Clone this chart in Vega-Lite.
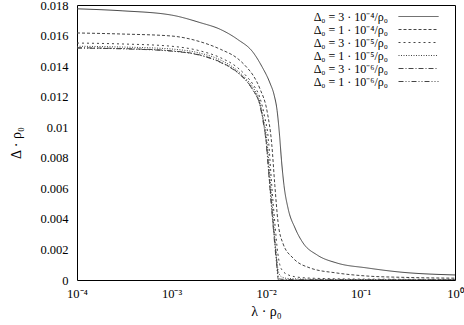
{
 "$schema": "https://vega.github.io/schema/vega-lite/v6.json",
 "width": 378, "height": 275,
 "autosize": {"type": "none"},
 "padding": {"left": 77, "top": 5, "right": 9, "bottom": 45},
 "background": "white",
 "config": {
  "view": {"stroke": null},
  "font": "Liberation Serif",
  "axis": {"labelFont": "Liberation Serif", "titleFont": "Liberation Serif", "labelColor": "black", "titleColor": "black", "domainColor": "black", "tickColor": "black", "grid": false, "labelFontSize": 12.5, "titleFontSize": 14, "titleFontWeight": "normal"}
 },
 "data": {"values": [
  {"series":"A","lambda":0.0001,"delta":0.01775},
  {"series":"A","lambda":0.0003,"delta":0.01762},
  {"series":"A","lambda":0.001,"delta":0.01734},
  {"series":"A","lambda":0.002,"delta":0.01685},
  {"series":"A","lambda":0.0033,"delta":0.0164},
  {"series":"A","lambda":0.005,"delta":0.01575},
  {"series":"A","lambda":0.0073,"delta":0.0149},
  {"series":"A","lambda":0.009,"delta":0.014},
  {"series":"A","lambda":0.011,"delta":0.0129},
  {"series":"A","lambda":0.0122,"delta":0.0121},
  {"series":"A","lambda":0.0131,"delta":0.0111},
  {"series":"A","lambda":0.0139,"delta":0.0095},
  {"series":"A","lambda":0.0146,"delta":0.0078},
  {"series":"A","lambda":0.0155,"delta":0.0062},
  {"series":"A","lambda":0.0171,"delta":0.0047},
  {"series":"A","lambda":0.0203,"delta":0.0034},
  {"series":"A","lambda":0.0247,"delta":0.00242},
  {"series":"A","lambda":0.0347,"delta":0.00164},
  {"series":"A","lambda":0.0564,"delta":0.00111},
  {"series":"A","lambda":0.117,"delta":0.00079},
  {"series":"A","lambda":0.262,"delta":0.00052},
  {"series":"A","lambda":1,"delta":0.00033},
  {"series":"B","lambda":0.0001,"delta":0.01617},
  {"series":"B","lambda":0.0003,"delta":0.0161},
  {"series":"B","lambda":0.001,"delta":0.01597},
  {"series":"B","lambda":0.002,"delta":0.0156},
  {"series":"B","lambda":0.0033,"delta":0.0151},
  {"series":"B","lambda":0.005,"delta":0.0145},
  {"series":"B","lambda":0.0063,"delta":0.0139},
  {"series":"B","lambda":0.0073,"delta":0.0134},
  {"series":"B","lambda":0.00865,"delta":0.0125},
  {"series":"B","lambda":0.0103,"delta":0.011},
  {"series":"B","lambda":0.0115,"delta":0.0089},
  {"series":"B","lambda":0.0124,"delta":0.0062},
  {"series":"B","lambda":0.0134,"delta":0.0038},
  {"series":"B","lambda":0.0151,"delta":0.0024},
  {"series":"B","lambda":0.0193,"delta":0.00144},
  {"series":"B","lambda":0.0292,"delta":0.00079},
  {"series":"B","lambda":0.056,"delta":0.00046},
  {"series":"B","lambda":0.117,"delta":0.00026},
  {"series":"B","lambda":0.3,"delta":0.00017},
  {"series":"B","lambda":1,"delta":0.00012},
  {"series":"C","lambda":0.0001,"delta":0.01551},
  {"series":"C","lambda":0.0003,"delta":0.01545},
  {"series":"C","lambda":0.001,"delta":0.0153},
  {"series":"C","lambda":0.002,"delta":0.015},
  {"series":"C","lambda":0.0033,"delta":0.01455},
  {"series":"C","lambda":0.005,"delta":0.0139},
  {"series":"C","lambda":0.0063,"delta":0.0133},
  {"series":"C","lambda":0.0073,"delta":0.0128},
  {"series":"C","lambda":0.00865,"delta":0.0119},
  {"series":"C","lambda":0.0096,"delta":0.0108},
  {"series":"C","lambda":0.0106,"delta":0.0092},
  {"series":"C","lambda":0.0115,"delta":0.0062},
  {"series":"C","lambda":0.0125,"delta":0.0035},
  {"series":"C","lambda":0.0133,"delta":0.0018},
  {"series":"C","lambda":0.014,"delta":0.001},
  {"series":"C","lambda":0.015,"delta":0.0006},
  {"series":"C","lambda":0.017,"delta":0.00035},
  {"series":"C","lambda":0.02,"delta":0.00022},
  {"series":"C","lambda":0.03,"delta":0.00012},
  {"series":"C","lambda":0.1,"delta":0.00006},
  {"series":"C","lambda":1,"delta":0.00004},
  {"series":"D","lambda":0.0001,"delta":0.0153},
  {"series":"D","lambda":0.0003,"delta":0.01525},
  {"series":"D","lambda":0.001,"delta":0.01512},
  {"series":"D","lambda":0.002,"delta":0.01485},
  {"series":"D","lambda":0.0033,"delta":0.0144},
  {"series":"D","lambda":0.005,"delta":0.0137},
  {"series":"D","lambda":0.0063,"delta":0.0131},
  {"series":"D","lambda":0.0073,"delta":0.0126},
  {"series":"D","lambda":0.00865,"delta":0.0116},
  {"series":"D","lambda":0.0093,"delta":0.0107},
  {"series":"D","lambda":0.0102,"delta":0.0092},
  {"series":"D","lambda":0.0112,"delta":0.0062},
  {"series":"D","lambda":0.0122,"delta":0.0033},
  {"series":"D","lambda":0.013,"delta":0.0013},
  {"series":"D","lambda":0.0136,"delta":0.0005},
  {"series":"D","lambda":0.0145,"delta":0.00022},
  {"series":"D","lambda":0.017,"delta":0.0001},
  {"series":"D","lambda":0.03,"delta":0.00005},
  {"series":"D","lambda":1,"delta":0.00001},
  {"series":"E","lambda":0.0001,"delta":0.0152},
  {"series":"E","lambda":0.0003,"delta":0.01515},
  {"series":"E","lambda":0.001,"delta":0.015},
  {"series":"E","lambda":0.002,"delta":0.01473},
  {"series":"E","lambda":0.0033,"delta":0.01427},
  {"series":"E","lambda":0.005,"delta":0.0136},
  {"series":"E","lambda":0.0063,"delta":0.013},
  {"series":"E","lambda":0.0073,"delta":0.01244},
  {"series":"E","lambda":0.00865,"delta":0.01145},
  {"series":"E","lambda":0.0093,"delta":0.0105},
  {"series":"E","lambda":0.01,"delta":0.0092},
  {"series":"E","lambda":0.011,"delta":0.0062},
  {"series":"E","lambda":0.0121,"delta":0.0032},
  {"series":"E","lambda":0.0131,"delta":0.001},
  {"series":"E","lambda":0.0134,"delta":0.0003},
  {"series":"E","lambda":0.014,"delta":0.00006},
  {"series":"E","lambda":0.02,"delta":0.00002},
  {"series":"E","lambda":1,"delta":0.000003},
  {"series":"F","lambda":0.0001,"delta":0.01518},
  {"series":"F","lambda":0.0003,"delta":0.01513},
  {"series":"F","lambda":0.001,"delta":0.01498},
  {"series":"F","lambda":0.002,"delta":0.01471},
  {"series":"F","lambda":0.0033,"delta":0.01424},
  {"series":"F","lambda":0.005,"delta":0.01357},
  {"series":"F","lambda":0.0063,"delta":0.01297},
  {"series":"F","lambda":0.0073,"delta":0.0124},
  {"series":"F","lambda":0.00865,"delta":0.0114},
  {"series":"F","lambda":0.0093,"delta":0.0104},
  {"series":"F","lambda":0.01,"delta":0.0091},
  {"series":"F","lambda":0.011,"delta":0.006},
  {"series":"F","lambda":0.0121,"delta":0.003},
  {"series":"F","lambda":0.013,"delta":0.0009},
  {"series":"F","lambda":0.0134,"delta":0.0001},
  {"series":"F","lambda":0.0136,"delta":0},
  {"series":"F","lambda":1,"delta":0}
 ]},
 "layer": [
  {
   "mark": {"type": "line", "strokeWidth": 1, "color": "#444", "clip": true, "interpolate": "monotone"},
   "encoding": {
    "x": {"field": "lambda", "type": "quantitative",
     "scale": {"type": "log", "domain": [0.0001, 1], "nice": false},
     "axis": {"orient": "bottom",
      "values": [0.0001,0.0002,0.0003,0.0004,0.0005,0.0006,0.0007,0.0008,0.0009,0.001,0.002,0.003,0.004,0.005,0.006,0.007,0.008,0.009,0.01,0.02,0.03,0.04,0.05,0.06,0.07,0.08,0.09,0.1,0.2,0.3,0.4,0.5,0.6,0.7,0.8,0.9,1],
      "labelExpr": "datum.value == 0.0001 ? '10⁻⁴' : datum.value == 0.001 ? '10⁻³' : datum.value == 0.01 ? '10⁻²' : datum.value == 0.1 ? '10⁻¹' : datum.value == 1 ? '10⁰' : ''",
      "tickSize": 0, "labelPadding": 7, "labelFlush": false, "labelOverlap": false,
      "title": "λ · ρ₀", "titlePadding": 5,
      "encode": {"ticks": {"update": {"y2": {"signal": "indexof([0.0001,0.001,0.01,0.1,1], datum.value) >= 0 ? -6 : -3"}}}}
     }
    },
    "y": {"field": "delta", "type": "quantitative",
     "scale": {"domain": [0, 0.018], "nice": false},
     "axis": {"orient": "left",
      "values": [0,0.002,0.004,0.006,0.008,0.01,0.012,0.014,0.016,0.018],
      "format": "~g", "tickSize": 0, "labelPadding": 9,
      "title": "Δ · ρ₀", "titlePadding": 16,
      "encode": {"ticks": {"update": {"x2": {"value": 6}}}}
     }
    },
    "strokeDash": {"field": "series", "type": "nominal",
     "scale": {"domain": ["A","B","C","D","E","F"], "range": [[1,0],[3,2],[2,3],[1,1.5],[5,2,1,2],[5,2,1,2,1,2]]},
     "legend": {"orient": "none", "legendX": 335.5, "legendY": 5.5, "title": null,
      "symbolType": "M-4,0H4", "symbolSize": 100, "symbolStrokeWidth": 1, "symbolStrokeColor": "#444",
      "labelAlign": "right", "labelOffset": -36.5, "rowPadding": 1,
      "labelFont": "Liberation Serif", "labelFontSize": 12, "labelColor": "black", "labelLimit": 0, "padding": 0,
      "labelExpr": "datum.value == 'A' ? 'Δ₀ = 3 · 10⁻⁴/ρ₀' : datum.value == 'B' ? 'Δ₀ = 1 · 10⁻⁴/ρ₀' : datum.value == 'C' ? 'Δ₀ = 3 · 10⁻⁵/ρ₀' : datum.value == 'D' ? 'Δ₀ = 1 · 10⁻⁵/ρ₀' : datum.value == 'E' ? 'Δ₀ = 3 · 10⁻⁶/ρ₀' : 'Δ₀ = 1 · 10⁻⁶/ρ₀'"
     }
    }
   }
  },
  {
   "mark": {"type": "point", "opacity": 0},
   "encoding": {
    "x": {"field": "lambda", "type": "quantitative",
     "axis": {"orient": "top",
      "values": [0.0001,0.0002,0.0003,0.0004,0.0005,0.0006,0.0007,0.0008,0.0009,0.001,0.002,0.003,0.004,0.005,0.006,0.007,0.008,0.009,0.01,0.02,0.03,0.04,0.05,0.06,0.07,0.08,0.09,0.1,0.2,0.3,0.4,0.5,0.6,0.7,0.8,0.9,1],
      "labels": false, "title": null, "tickSize": 0,
      "encode": {"ticks": {"update": {"y2": {"signal": "indexof([0.0001,0.001,0.01,0.1,1], datum.value) >= 0 ? 6 : 3"}}}}
     }
    },
    "y": {"field": "delta", "type": "quantitative",
     "axis": {"orient": "right",
      "values": [0,0.002,0.004,0.006,0.008,0.01,0.012,0.014,0.016,0.018],
      "labels": false, "title": null, "tickSize": 0,
      "encode": {"ticks": {"update": {"x2": {"value": -6}}}}
     }
    }
   }
  }
 ],
 "resolve": {"axis": {"x": "independent", "y": "independent"}}
}
